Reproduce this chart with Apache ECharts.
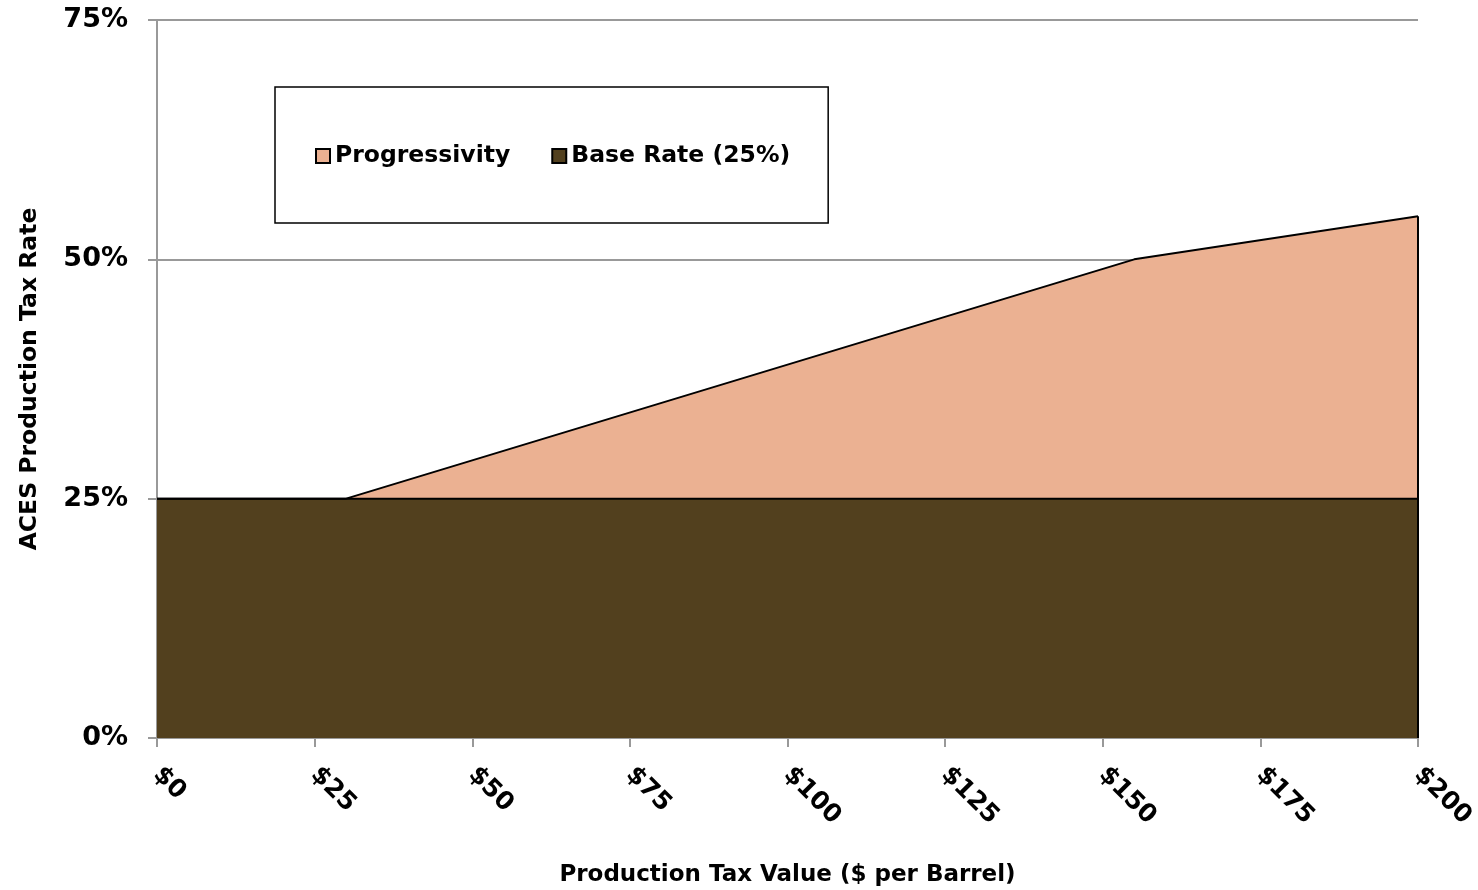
<!DOCTYPE html>
<html>
<head>
<meta charset="utf-8">
<script src="https://cdn.jsdelivr.net/npm/echarts@6/dist/echarts.min.js"></script>
<style>
  html, body { margin: 0; padding: 0; background: #fff; }
  #grafico { width: 1478px; height: 890px; }
</style>
</head>
<body>
<div id="grafico"></div>
<script>
// dados
var taxValue = [0, 30, 155, 200];          // $ por barril
var baseRate = [25, 25, 25, 25];            // %
var progressivity = [0, 0, 25, 29.5];       // % acima da base
var xTicks = [0, 25, 50, 75, 100, 125, 150, 175, 200];
var yTicks = [0, 25, 50, 75];

var fonte = 'DejaVu Sans';

function pares(valores) {
    var out = [];
    taxValue.forEach(function (x, i) {
        out.push([x, valores[i]]);
    });
    return out;
}

// topo da area = base + progressividade
var total = progressivity.map(function (p, i) { return p + baseRate[i]; });
var ultimo = taxValue.length - 1;

var myChart = echarts.init(document.getElementById('grafico'));

var option = {
    animation: false,
    textStyle: { fontFamily: fonte, fontWeight: 'bold', color: '#000' },
    grid: { left: 157, right: 60, top: 20, bottom: 152, outerBoundsMode: 'none', containLabel: false },
    legend: {
        data: ['Progressivity', 'Base Rate (25%)'],
        left: 275,
        top: 87,
        padding: [57, 38, 55, 40],
        borderColor: '#000',
        borderWidth: 1.5,
        backgroundColor: '#fff',
        itemWidth: 14,
        itemHeight: 14,
        itemGap: 41,
        icon: 'rect',
        textStyle: { fontFamily: fonte, fontWeight: 'bold', fontSize: 23.5, color: '#000' }
    },
    xAxis: {
        type: 'value',
        min: 0,
        max: 200,
        interval: 25,
        name: 'Production Tax Value ($ per Barrel)',
        nameLocation: 'middle',
        nameGap: 126,
        nameTextStyle: { fontFamily: fonte, fontWeight: 'bold', fontSize: 23, color: '#000' },
        axisLine: { lineStyle: { color: '#999', width: 2 } },
        axisTick: { show: true, length: 9, lineStyle: { color: '#999', width: 2 } },
        splitLine: { show: false },
        axisLabel: {
            rotate: -45,
            margin: 33,
            fontSize: 25,
            fontFamily: fonte,
            fontWeight: 'bold',
            color: '#000',
            formatter: function (v) { return '$' + v; }
        }
    },
    yAxis: {
        type: 'value',
        min: 0,
        max: 75,
        interval: 25,
        name: 'ACES Production Tax Rate',
        nameLocation: 'middle',
        nameRotate: 90,
        nameGap: 115,
        nameTextStyle: { fontFamily: fonte, fontWeight: 'bold', fontSize: 23.5, color: '#000' },
        axisLine: { show: true, lineStyle: { color: '#999', width: 2 } },
        axisTick: { show: true, length: 9, lineStyle: { color: '#999', width: 2 } },
        splitLine: { show: true, lineStyle: { color: '#999', width: 2 } },
        axisLabel: {
            margin: 29,
            fontSize: 27,
            fontFamily: fonte,
            fontWeight: 'bold',
            color: '#000',
            formatter: function (v) { return v + '%'; }
        }
    },
    series: [
        {
            name: 'Progressivity',
            type: 'line',
            showSymbol: false,
            symbol: 'none',
            data: pares(total),
            lineStyle: { color: '#000', width: 2 },
            itemStyle: { color: '#EBB192', borderColor: '#000', borderWidth: 1.5 },
            areaStyle: { color: '#EBB192', opacity: 1 },
            z: 2
        },
        {
            name: 'Base Rate (25%)',
            type: 'line',
            showSymbol: false,
            symbol: 'none',
            data: pares(baseRate),
            lineStyle: { color: '#000', width: 2 },
            itemStyle: { color: '#52401E', borderColor: '#000', borderWidth: 1.5 },
            areaStyle: { color: '#52401E', opacity: 1 },
            z: 2,
            // borda direita da area
            markLine: {
                silent: true,
                symbol: 'none',
                label: { show: false },
                lineStyle: { color: '#000', width: 2, type: 'solid' },
                data: [[
                    { coord: [taxValue[ultimo], 0] },
                    { coord: [taxValue[ultimo], total[ultimo]] }
                ]]
            }
        }
    ]
};

myChart.setOption(option);
</script>
</body>
</html>
